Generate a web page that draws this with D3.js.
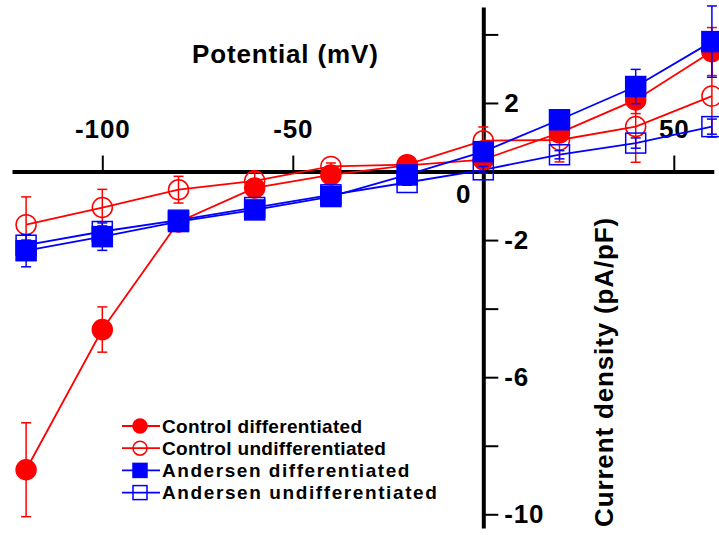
<!DOCTYPE html>
<html><head><meta charset="utf-8">
<script src="https://cdn.jsdelivr.net/npm/d3@7"></script>
<style>
body{margin:0;background:#fff}
svg{display:block;background:#fff}
text{font-family:"Liberation Sans",Arial,Helvetica,sans-serif;font-weight:bold;fill:#000}
</style>
</head><body>
<svg id="chart" width="719" height="535"></svg>
<script>
// ---------- data ----------
const voltages = [-120, -100, -80, -60, -40, -20, 0, 20, 40, 60];

const controlDiff      = [-8.70, -4.61, -1.47, -0.48, -0.10, 0.18, 0.35, 1.13, 2.09, 3.50];
const controlDiffErr   = [ 1.37,  0.66,  0.15,  0.12,  0.08, 0.08, 0.15, 0.25, 0.40, 0.70];
const controlUndiff    = [-1.55, -1.05, -0.53, -0.27,  0.15, 0.20, 0.90, 0.92, 1.31, 2.20];
const controlUndiffErr = [ 0.81,  0.53,  0.39,  0.25,  0.10, 0.10, 0.40, 0.64, 1.04, 1.20];
const andersenDiff      = [-2.31, -1.90, -1.46, -1.12, -0.73, -0.10, 0.58, 1.51, 2.48, 3.79];
const andersenDiffErr   = [ 0.47,  0.40,  0.15,  0.10,  0.10,  0.10, 0.10, 0.25, 0.50, 1.04];
const andersenUndiff    = [-2.15, -1.75, -1.42, -1.05, -0.68, -0.32, 0.05, 0.49, 0.83, 1.31];
const andersenUndiffErr = [ 0.15,  0.12,  0.10,  0.10,  0.08,  0.08, 0.10, 0.12, 0.15, 0.22];

const seriesNames = ["Control differentiated", "Control undifferentiated",
                     "Andersen differentiated", "Andersen undifferentiated"];

const xTickValues = [-100, -50, 50];
const xTickLabels = ["-100", "-50", "50"];
const yTickValues = [4, 2, -2, -4, -6, -8, -10];
const yTickLabels = ["", "2", "-2", "", "-6", "", "-10"];
const xTitle = "Potential (mV)";
const yTitle = "Current density (pA/pF)";
const originLabel = "0";

// ---------- styles ----------
const seriesStyle = [
  {color: "#ff0000", shape: "circle", filled: true,  ls: 0.33},
  {color: "#ff0000", shape: "circle", filled: false, ls: 0.33},
  {color: "#0000ff", shape: "square", filled: true,  ls: 1.55},
  {color: "#0000ff", shape: "square", filled: false, ls: 1.6}
];
const seriesValues = [controlDiff, controlUndiff, andersenDiff, andersenUndiff];
const seriesErrors = [controlDiffErr, controlUndiffErr, andersenDiffErr, andersenUndiffErr];

const series = seriesNames.map((name, i) => ({
  name, style: seriesStyle[i],
  points: voltages.map((v, j) => ({v, c: seriesValues[i][j], e: seriesErrors[i][j]}))
}));

const svg = d3.select("#chart");
const x = d3.scaleLinear().domain([-123.7, 60.5]).range([12, 713.8]);
const y = d3.scaleLinear().domain([4.8, -10.4]).range([7, 528]);

const FONT = '"Liberation Sans",Arial,Helvetica,sans-serif';

// ---------- axes ----------
const gx = svg.append("g")
  .attr("transform", `translate(0,${y(0)})`)
  .call(d3.axisTop(x).tickValues(xTickValues).tickFormat((d, i) => xTickLabels[i])
        .tickSizeInner(16).tickSizeOuter(0).tickPadding(18));
gx.attr("font-size", null).attr("font-family", null);
gx.select(".domain").attr("stroke", "#000").attr("stroke-width", 4);
gx.selectAll(".tick line").attr("stroke", "#000").attr("stroke-width", 2);
gx.selectAll(".tick text").style("font-size", "26px").style("font-family", FONT)
  .style("font-weight", "bold").style("letter-spacing", "0.85px").attr("fill", "#000");

const gy = svg.append("g")
  .attr("transform", `translate(${x(0)},0)`)
  .call(d3.axisRight(y).tickValues(yTickValues).tickFormat((d, i) => yTickLabels[i])
        .tickSizeInner(15).tickSizeOuter(0).tickPadding(6));
gy.attr("font-size", null).attr("font-family", null);
gy.select(".domain").attr("stroke", "#000").attr("stroke-width", 4);
gy.selectAll(".tick line").attr("stroke", "#000").attr("stroke-width", 2);
gy.selectAll(".tick text").style("font-size", "26px").style("font-family", FONT)
  .style("font-weight", "bold").style("letter-spacing", "0.85px").attr("fill", "#000");

svg.append("text").attr("x", x(0) - 20).attr("y", y(0) + 31)
  .attr("text-anchor", "middle").style("font-size", "26px").text(originLabel);

svg.append("text").attr("x", 192).attr("y", 63)
  .style("font-size", "26px").style("letter-spacing", "0.85px").text(xTitle);

svg.append("text").attr("transform", `translate(613,372) rotate(-90)`)
  .attr("text-anchor", "middle")
  .style("font-size", "26px").style("letter-spacing", "0.85px").text(yTitle);

// ---------- series ----------
const line = d3.line().x(d => x(d.v)).y(d => y(d.c));
const plot = svg.append("g");

function drawMarker(g, st, cx, cy, size) {
  if (st.shape === "circle") {
    g.append("circle").attr("cx", cx).attr("cy", cy).attr("r", size / 2)
      .attr("fill", st.filled ? st.color : "none")
      .attr("stroke", st.color).attr("stroke-width", 1.5);
  } else {
    g.append("rect").attr("x", cx - size / 2).attr("y", cy - size / 2)
      .attr("width", size).attr("height", size)
      .attr("fill", st.filled ? st.color : "none")
      .attr("stroke", st.color).attr("stroke-width", 1.5);
  }
}

const drawOrder = [1, 0, 3, 2];
drawOrder.forEach(i => {
  const s = series[i];
  plot.append("path").datum(s.points).attr("d", line)
    .attr("fill", "none").attr("stroke", s.style.color).attr("stroke-width", 1.8);
});
drawOrder.forEach(i => {
  const s = series[i];
  const g = plot.append("g");
  s.points.forEach(p => {
    const cx = x(p.v), y1 = y(p.c + p.e), y2 = y(p.c - p.e);
    g.append("line").attr("x1", cx).attr("x2", cx).attr("y1", y1).attr("y2", y2)
      .attr("stroke", s.style.color).attr("stroke-width", 1.5);
    [y1, y2].forEach(yy => g.append("line").attr("x1", cx - 5).attr("x2", cx + 5)
      .attr("y1", yy).attr("y2", yy).attr("stroke", s.style.color).attr("stroke-width", 1.5));
  });
  s.points.forEach(p => drawMarker(g, s.style, x(p.v), y(p.c), 20));
});

// ---------- legend ----------
const legend = svg.append("g");
series.forEach((s, i) => {
  const ly = 426 + i * 22.2;
  legend.append("line").attr("x1", 122).attr("x2", 160).attr("y1", ly).attr("y2", ly)
    .attr("stroke", s.style.color).attr("stroke-width", 1.8);
  drawMarker(legend, s.style, 140, ly, 14);
  legend.append("text").attr("x", 162).attr("y", ly).attr("dy", "0.35em")
    .style("font-size", "19px").style("letter-spacing", s.style.ls + "px").text(s.name);
});
</script>
</body></html>
